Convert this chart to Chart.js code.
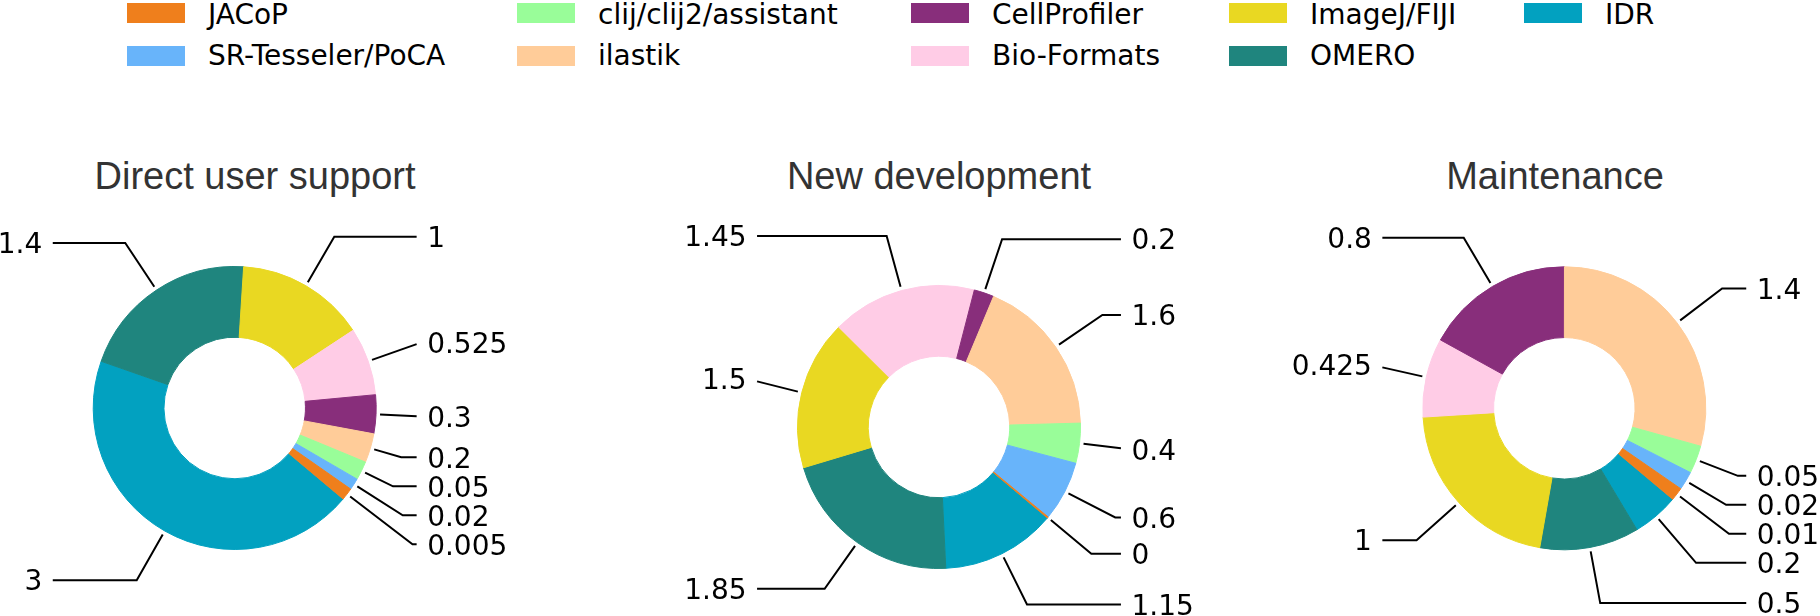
<!DOCTYPE html>
<html>
<head>
<meta charset="utf-8">
<script src="https://cdn.jsdelivr.net/npm/chart.js@4.4.1/dist/chart.umd.min.js"></script>
<style>
  html, body { margin: 0; padding: 0; background: #fff; }
  body { width: 1820px; height: 616px; position: relative; overflow: hidden; font-family: "DejaVu Sans", sans-serif; }
  .swatch { position: absolute; width: 58px; height: 20px; }
  .legend-text { position: absolute; font-size: 28px; line-height: 28px; color: #000; white-space: nowrap; }
  .title { position: absolute; top: 157px; font-family: "Liberation Sans", Arial, sans-serif; font-size: 38px; line-height: 38px; color: #333; transform: translateX(-50%); white-space: nowrap; }
  canvas { position: absolute; top: 0; }
</style>
</head>
<body>
<div id="legend"></div>
<div class="title" style="left:255px">Direct user support</div>
<div class="title" style="left:939px">New development</div>
<div class="title" style="left:1555px">Maintenance</div>
<canvas id="supportChart" width="600" height="616" style="left:0px"></canvas>
<canvas id="devChart" width="620" height="616" style="left:600px"></canvas>
<canvas id="maintChart" width="600" height="616" style="left:1220px"></canvas>

<script>
// --- data ---
const tools = ['JACoP', 'SR-Tesseler/PoCA', 'clij/clij2/assistant', 'ilastik', 'CellProfiler',
               'Bio-Formats', 'ImageJ/FIJI', 'OMERO', 'IDR'];
const toolColors = ['#ef7f1c', '#68b4fa', '#99fd99', '#ffcc99', '#882e7b',
                    '#ffcce6', '#e9d822', '#1f857e', '#02a1c0'];

// numbers printed next to each slice
const supportValues = [0.005, 0.02, 0.05, 0.2, 0.3, 0.525, 1, 1.4, 3];
const devValues     = [0, 0.6, 0.4, 1.6, 0.2, 1.45, 1.5, 1.85, 1.15];
const maintValues   = [0.01, 0.02, 0.05, 1.4, 0.8, 0.425, 1, 0.5, 0.2];

// slice sizes as they are drawn in the figure (the small ones are drawn wider than their number)
const supportSlices = [0.095, 0.09, 0.145, 0.225, 0.3, 0.525, 1, 1.4, 3];
const devSlices     = [0.012, 0.6, 0.4, 1.6, 0.2, 1.45, 1.5, 1.85, 1.15];
const maintSlices   = [0.07, 0.1, 0.15, 1.38, 0.8, 0.425, 1, 0.535, 0.25];

// --- layout ---
const RADIUS = 141.5;
const LABEL_GAP = 29;      // min vertical distance between labels on one side
const TEXT_PAD = 10.5;     // gap between leader line and text
const BOX_HALF = 26;       // half height of the (invisible) text box

// legend (5 columns, filled column by column)
const legendSwatchX = [127, 517, 911, 1229, 1524];
const legendSwatchY = [3, 46];
const legendTextTop = [1, 42];

const legendEl = document.getElementById('legend');
tools.forEach((name, i) => {
    const col = Math.floor(i / 2), row = i % 2;
    const sw = document.createElement('div');
    sw.className = 'swatch';
    sw.style.left = legendSwatchX[col] + 'px';
    sw.style.top = legendSwatchY[row] + 'px';
    sw.style.background = toolColors[i];
    legendEl.appendChild(sw);
    const tx = document.createElement('div');
    tx.className = 'legend-text';
    tx.style.left = (legendSwatchX[col] + 81) + 'px';
    tx.style.top = legendTextTop[row] + 'px';
    tx.textContent = name;
    legendEl.appendChild(tx);
});

// push overlapping labels apart, keeping each group centred on its ideal spot
function spread(group, gap) {
    let clusters = group.map(it => ({ items: [it] }));
    const mid = c => c.items.reduce((a, it) => a + it.ideal, 0) / c.items.length;
    let merged = true;
    while (merged) {
        merged = false;
        for (let k = 0; k < clusters.length - 1; k++) {
            const a = clusters[k], b = clusters[k + 1];
            const aEnd = mid(a) + (a.items.length - 1) * gap / 2;
            const bStart = mid(b) - (b.items.length - 1) * gap / 2;
            if (bStart - aEnd < gap) {
                a.items = a.items.concat(b.items);
                clusters.splice(k + 1, 1);
                merged = true;
                break;
            }
        }
    }
    clusters.forEach(c => {
        const m = mid(c), n = c.items.length;
        c.items.forEach((it, j) => { it.y = m + (j - (n - 1) / 2) * gap; });
    });
}

const leaderLabels = {
    id: 'leaderLabels',
    afterDatasetsDraw(chart) {
        const ctx = chart.ctx;
        const meta = chart.getDatasetMeta(0);
        const shown = chart.data.datasets[0].shown;
        const items = meta.data.map((arc, i) => {
            const p = arc.getProps(['x', 'y', 'startAngle', 'endAngle', 'outerRadius'], true);
            const m = (p.startAngle + p.endAngle) / 2;
            const c = Math.cos(m), s = Math.sin(m);
            const ideal = p.y + 1.4 * RADIUS * s;
            return { text: String(shown[i]), side: c >= 0 ? 1 : -1, cos: c, sin: s,
                     cx: p.x, cy: p.y, ideal: ideal, y: ideal };
        });
        [1, -1].forEach(side => {
            const g = items.filter(it => it.side === side).sort((a, b) => a.ideal - b.ideal);
            spread(g, LABEL_GAP);
        });

        ctx.save();
        ctx.strokeStyle = '#000';
        ctx.lineWidth = 2;
        ctx.fillStyle = '#000';
        ctx.font = '28px "DejaVu Sans"';
        ctx.textBaseline = 'alphabetic';
        items.forEach(it => {
            const side = it.side;
            const tx = it.cx + side * 1.36 * RADIUS;
            const ty = it.y;
            const sx = it.cx + (RADIUS + 4) * it.cos;
            const sy = it.cy + (RADIUS + 4) * it.sin;
            const x0 = tx - side * TEXT_PAD;
            let ex;
            if (Math.abs(it.sin) < 1e-3) ex = x0;
            else ex = sx + (ty - sy) / it.sin * it.cos;

            ctx.beginPath();
            if (side * (ex - x0) <= 0) {
                ctx.moveTo(x0, ty);
                ctx.lineTo(ex, ty);
                ctx.lineTo(sx, sy);
            } else {
                // elbow falls inside the text box: clip the radial part at the box
                let t = 1;
                if (sx !== ex) {
                    const tX = (x0 - ex) / (sx - ex);
                    if (tX > 0) t = Math.min(t, tX);
                }
                if (sy !== ty) {
                    const yb = sy > ty ? ty + BOX_HALF : ty - BOX_HALF;
                    const tY = (yb - ty) / (sy - ty);
                    if (tY > 0) t = Math.min(t, tY);
                }
                ctx.moveTo(ex + t * (sx - ex), ty + t * (sy - ty));
                ctx.lineTo(sx, sy);
            }
            ctx.stroke();

            ctx.textAlign = side > 0 ? 'left' : 'right';
            ctx.fillText(it.text, tx, ty + 10.2);
        });
        ctx.restore();
    }
};

function makeChart(id, slices, values, center) {
    const canvas = document.getElementById(id);
    const left = parseFloat(canvas.style.left);
    const cx = center[0] - left, cy = center[1];
    const half = 150;
    const rev = a => a.slice().reverse();   // matplotlib goes counter-clockwise
    return new Chart(canvas, {
        type: 'doughnut',
        data: {
            labels: rev(tools),
            datasets: [{
                data: rev(slices),
                shown: rev(values),
                backgroundColor: rev(toolColors),
                borderColor: rev(toolColors),
                borderWidth: 1
            }]
        },
        options: {
            responsive: false,
            animation: false,
            events: [],
            rotation: 130,
            cutout: '50%',
            radius: RADIUS,
            layout: {
                padding: {
                    left: cx - half,
                    right: canvas.width - cx - half,
                    top: cy - half,
                    bottom: canvas.height - cy - half
                }
            },
            plugins: { legend: { display: false }, tooltip: { enabled: false } }
        },
        plugins: [leaderLabels]
    });
}

makeChart('supportChart', supportSlices, supportValues, [234.7, 408]);
makeChart('devChart', devSlices, devValues, [939, 427]);
makeChart('maintChart', maintSlices, maintValues, [1564.3, 408.3]);
</script>
</body>
</html>
